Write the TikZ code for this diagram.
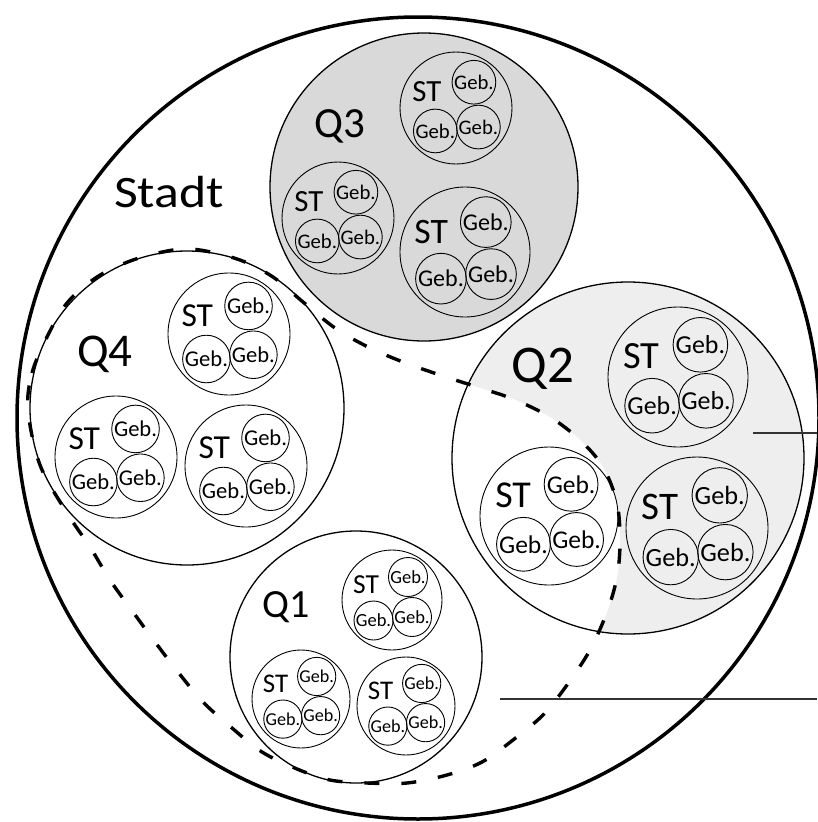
\documentclass[tikz,border=0pt]{standalone}
\usepackage{fontspec}
\setmainfont{Carlito}
\usetikzlibrary{calc}
\pgfdeclarelayer{background}
\pgfsetlayers{background,main}
\definecolor{darkfill}{HTML}{D9D9D9}
\definecolor{lightfill}{HTML}{EEEEEE}

\tikzset{
  citycircle/.style={circle, draw, line width=3.5pt, inner sep=0pt},
  quarter/.style={circle, draw, line width=1.3pt, inner sep=0pt},
  street/.style={circle, draw, line width=0.9pt, inner sep=0pt},
  building/.style={circle, draw, line width=0.9pt, inner sep=0pt},
  biglabel/.style={anchor=base, inner sep=0pt},
  boundary/.style={draw, line width=3.4pt, dash pattern=on 15pt off 22pt},
  leader/.style={line width=1.1pt, draw=black!80},
}

% one street circle (ST) holding three buildings (Geb.)
% #1 name, #2 x, #3 y, #4 radius
\newcommand{\stcluster}[4]{%
  \pgfmathsetmacro{\clR}{#4}%
  \pgfmathsetmacro{\clD}{2*#4}%
  \pgfmathsetmacro{\clST}{0.55*#4}%
  \pgfmathsetmacro{\clGF}{0.37*#4}%
  \pgfmathsetmacro{\clGD}{0.78*#4}%
  \node[street, minimum size=\clD pt] (#1) at (#2,#3) {};
  \node[inner sep=0pt, font=\fontsize{\clST pt}{\clST pt}\selectfont]
    (#1-st) at ($(#1.center)+(-0.52*\clR,-0.30*\clR)$) {ST};
  \node[building, minimum size=\clGD pt, font=\fontsize{\clGF pt}{\clGF pt}\selectfont]
    (#1-g1) at ($(#1.center)+(0.32*\clR,-0.46*\clR)$) {Geb.};
  \node[building, minimum size=\clGD pt, font=\fontsize{\clGF pt}{\clGF pt}\selectfont]
    (#1-g2) at ($(#1.center)+(-0.37*\clR,0.41*\clR)$) {Geb.};
  \node[building, minimum size=\clGD pt, font=\fontsize{\clGF pt}{\clGF pt}\selectfont]
    (#1-g3) at ($(#1.center)+(0.40*\clR,0.34*\clR)$) {Geb.};
}

% district boundary enclosing Q4, Q1 and part of Q2
\newcommand{\districtpath}[1]{%
  \path[#1] plot[smooth cycle, tension=0.55] coordinates {
    (28,410) (32,373) (47,337) (67,303) (97,277) (133,260) (173,250)
    (200,250) (240,260) (273,277) (303,302) (335,328) (368,347)
    (403,362) (440,375) (477,387) (513,399) (550,417) (580,440)
    (603,467) (617,503) (620,542) (617,577) (607,612) (590,650)
    (567,685) (543,715) (513,740) (482,762) (447,775) (407,783)
    (367,783) (330,780) (297,769) (262,752) (232,728) (203,702)
    (178,672) (155,642) (133,612) (110,580) (90,547) (67,513) (40,465)};
}

\begin{document}
\begin{tikzpicture}[x=1pt, y=-1pt]
\useasboundingbox (0,0) rectangle (817,822);

% city
\node[citycircle, minimum size=802pt] (stadt) at (418,418) {};

% quarters
\node[quarter, minimum size=308pt] (q3) at (424,187) {};
\node[quarter, minimum size=314pt] (q4) at (187,408) {};
\node[quarter, minimum size=352pt] (q2) at (628,458) {};
\node[quarter, minimum size=252pt] (q1) at (356,657) {};

\begin{pgfonlayer}{background}
  \fill[darkfill] (q3.center) circle (154);
  \fill[lightfill] (q2.center) circle (176);
  \begin{scope}
    \clip (q2.center) circle (176);
    \districtpath{fill=white}
  \end{scope}
\end{pgfonlayer}

% streets and buildings
\stcluster{q3a}{456}{108}{56}
\stcluster{q3b}{338}{218}{56}
\stcluster{q3c}{465}{252}{65}

\stcluster{q4a}{229}{334}{61}
\stcluster{q4b}{116}{457}{61}
\stcluster{q4c}{246}{466}{61}

\stcluster{q2a}{678}{377}{70}
\stcluster{q2b}{549}{516}{69}
\stcluster{q2c}{697}{528}{71}

\stcluster{q1a}{392}{600}{50}
\stcluster{q1b}{301}{699}{49}
\stcluster{q1c}{406}{706}{49}

% dashed district boundary
\districtpath{boundary}

% labels
\node[biglabel, font=\fontsize{45pt}{45pt}\selectfont] (stadt-label) at (169,207) {\scalebox{1.15}[1]{Stadt}};
\node[biglabel, font=\fontsize{43pt}{43pt}\selectfont] (q3-label) at (340,137) {Q3};
\node[biglabel, font=\fontsize{47pt}{47pt}\selectfont] (q4-label) at (105,366) {Q4};
\node[biglabel, font=\fontsize{53pt}{53pt}\selectfont] (q2-label) at (543,382) {Q2};
\node[biglabel, font=\fontsize{40pt}{40pt}\selectfont] (q1-label) at (286,617) {Q1};

% leader lines running off to the right
\coordinate (lead1-in) at (753,433);
\coordinate (lead1-out) at (817,433);
\coordinate (lead2-in) at (500,699);
\coordinate (lead2-out) at (817,699);
\draw[leader] (lead1-in) -- (lead1-out);
\draw[leader] (lead2-in) -- (lead2-out);
\end{tikzpicture}
\end{document}
